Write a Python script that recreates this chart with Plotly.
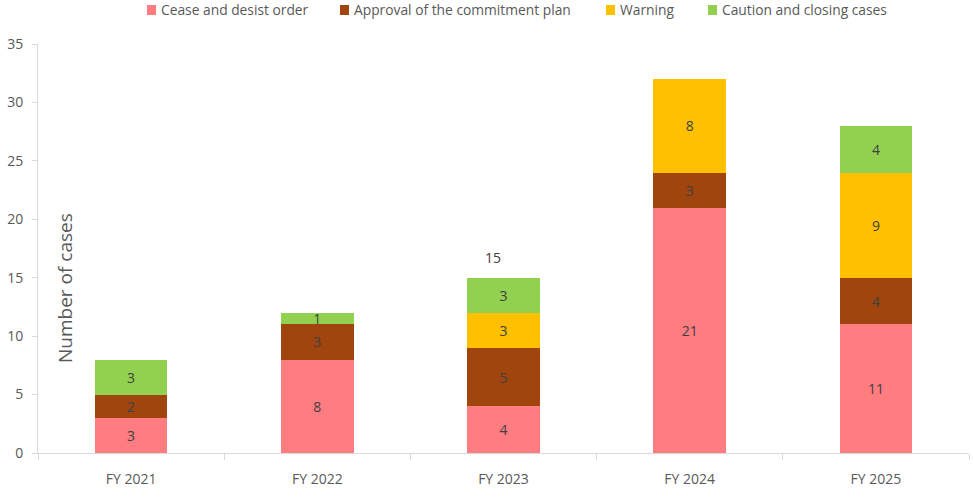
import plotly.graph_objects as go

years = ["FY 2021", "FY 2022", "FY 2023", "FY 2024", "FY 2025"]
cease = [3, 8, 4, 21, 11]
approval = [2, 3, 5, 3, 4]
warning = [None, None, 3, 8, 9]
caution = [3, 1, 3, None, 4]

names = ["Cease and desist order", "Approval of the commitment plan",
         "Warning", "Caution and closing cases"]
colors = ["#FF7C80", "#A0450E", "#FFC000", "#92D050"]
values = [cease, approval, warning, caution]

FONT = "Open Sans, Segoe UI, sans-serif"
TEXT_GREY = "#595959"
LABEL_GREY = "#404040"

W, H = 973, 502
# plot area in px (left, right, bottom, top)
PX_L, PX_R, PX_B, PX_T = 38, 969, 453, 44


def px_x(px):
    return (px - PX_L) / (PX_R - PX_L)


def px_y(py):
    return (PX_B - py) / (PX_B - PX_T)


fig = go.Figure()
for name, vals, color in zip(names, values, colors):
    fig.add_trace(go.Bar(
        x=years,
        y=vals,
        name=name,
        marker=dict(color=color, line=dict(width=0)),
        text=[str(v) if v else "" for v in vals],
        textposition="inside",
        insidetextanchor="middle",
        textangle=0,
        constraintext="none",
        textfont=dict(color=LABEL_GREY, size=14, family=FONT),
        width=0.39,
        showlegend=False,
    ))

# total shown above FY 2023 only
total_2023 = sum(v or 0 for v in [cease[2], approval[2], warning[2], caution[2]])
fig.add_annotation(x="FY 2023", y=total_2023, text=str(total_2023), showarrow=False,
                   yanchor="bottom", yshift=9, xshift=-11,
                   font=dict(color=LABEL_GREY, size=14, family=FONT))

fig.add_annotation(xref="paper", yref="paper", x=px_x(65), y=px_y(288),
                   xanchor="center", yanchor="middle",
                   text="Number of cases", textangle=-90, showarrow=False,
                   font=dict(color=TEXT_GREY, size=19, family=FONT))

# legend: small squares with the text just to their right
legend_marker_px = [147, 340, 606, 708]
for name, color, mx in zip(names, colors, legend_marker_px):
    fig.add_shape(type="rect", xref="paper", yref="paper",
                  x0=px_x(mx), x1=px_x(mx + 9), y0=px_y(15), y1=px_y(5),
                  fillcolor=color, line=dict(width=0))
    fig.add_annotation(xref="paper", yref="paper", x=px_x(mx + 12), y=px_y(10),
                       xanchor="left", yanchor="middle", text=name, showarrow=False,
                       font=dict(color=TEXT_GREY, size=13.8, family=FONT))

fig.update_layout(
    barmode="stack",
    width=W,
    height=H,
    plot_bgcolor="white",
    paper_bgcolor="white",
    font=dict(family=FONT, color=TEXT_GREY, size=14),
    margin=dict(l=PX_L, r=W - PX_R, t=PX_T, b=H - PX_B, autoexpand=False),
    showlegend=False,
)
fig.update_xaxes(
    showline=True, linecolor="#D9D9D9", linewidth=1,
    ticks="outside", tickson="boundaries", ticklen=6, tickcolor="#D9D9D9",
    showgrid=False, tickfont=dict(size=14, color=TEXT_GREY), ticklabelstandoff=13,
)
fig.update_yaxes(
    range=[0, 35], dtick=5, showline=True, linecolor="#D9D9D9", linewidth=1,
    ticks="outside", ticklen=5, tickcolor="#D9D9D9", showgrid=False,
    zeroline=False, tickfont=dict(size=14, color=TEXT_GREY), ticklabelstandoff=6,
)

# drop the browser's default 8px body margin so the figure sits at the page corner
fig.write_html("out.html", config={"displayModeBar": False},
               post_script="document.body.style.margin = '0';")
